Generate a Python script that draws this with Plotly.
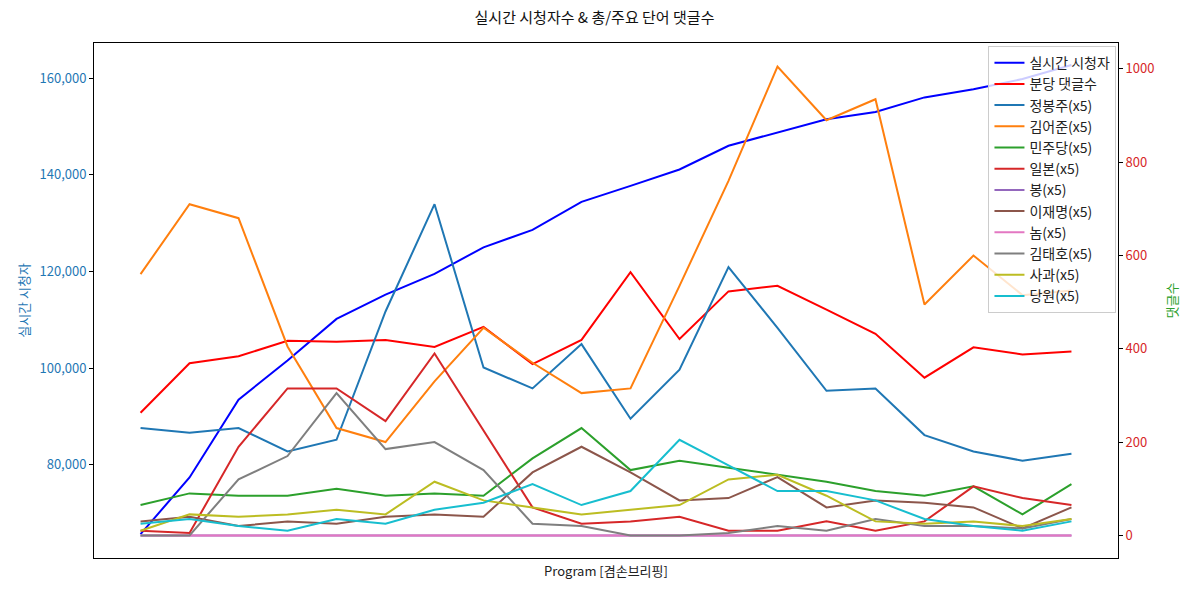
import plotly.graph_objects as go

FONT = "Noto Sans CJK KR"
x = list(range(20))

viewers = [65700, 77400, 93500, 101600, 110200, 115200, 119500, 125000, 128600, 134400,
           137700, 141100, 146000, 148700, 151500, 153000, 156000, 157700, 159800, 162700]
comments_per_min = [263, 369, 384, 417, 415, 419, 404, 447, 367, 419,
                    564, 421, 523, 535, 484, 432, 338, 403, 388, 394]

kw_names = ["정봉주(x5)", "김어준(x5)", "민주당(x5)", "일본(x5)", "봉(x5)", "이재명(x5)",
            "놈(x5)", "김태호(x5)", "사과(x5)", "당원(x5)"]
kw_jbj = [230, 220, 230, 180, 205, 480, 710, 360, 315, 410, 250, 355, 575, 445, 310, 315, 215, 180, 160, 175]
kw_kej = [560, 710, 680, 405, 230, 200, 330, 445, 370, 305, 315, 535, 760, 1005, 890, 935, 495, 600, 515, 525]
kw_mjd = [65, 90, 85, 85, 100, 85, 90, 85, 165, 230, 140, 160, 145, 130, 115, 95, 85, 105, 45, 110]
kw_jp = [10, 5, 190, 315, 315, 245, 390, 225, 60, 25, 30, 40, 10, 10, 30, 10, 30, 105, 80, 65]
kw_bong = [0] * 20
kw_ljm = [30, 40, 20, 30, 25, 40, 45, 40, 135, 190, 135, 75, 80, 125, 60, 75, 70, 60, 15, 60]
kw_nom = [0] * 20
kw_kth = [0, 0, 120, 170, 305, 185, 200, 140, 25, 20, 0, 0, 5, 20, 10, 35, 20, 20, 15, 35]
kw_apple = [10, 45, 40, 45, 55, 45, 115, 75, 60, 45, 55, 65, 120, 130, 85, 30, 25, 30, 20, 35]
kw_member = [25, 35, 20, 10, 35, 25, 55, 70, 110, 65, 95, 205, 150, 95, 95, 75, 35, 20, 10, 30]
kw_values = [kw_jbj, kw_kej, kw_mjd, kw_jp, kw_bong, kw_ljm, kw_nom, kw_kth, kw_apple, kw_member]
kw_colors = ["#1f77b4", "#ff7f0e", "#2ca02c", "#d62728", "#9467bd", "#8c564b",
             "#e377c2", "#7f7f7f", "#bcbd22", "#17becf"]

fig = go.Figure()
fig.add_trace(go.Scatter(x=x, y=viewers, mode="lines", name="실시간 시청자",
                         line=dict(color="#0000ff", width=2), yaxis="y"))
fig.add_trace(go.Scatter(x=x, y=comments_per_min, mode="lines", name="분당 댓글수",
                         line=dict(color="#ff0000", width=2), yaxis="y2"))
for n, v, c in zip(kw_names, kw_values, kw_colors):
    fig.add_trace(go.Scatter(x=x, y=v, mode="lines", name=n,
                             line=dict(color=c, width=2), yaxis="y2"))

fig.update_layout(
    width=1189, height=592,
    margin=dict(l=94, r=71, t=43, b=34),
    paper_bgcolor="white", plot_bgcolor="white",
    font=dict(family=FONT, size=13, color="#222"),
    title=dict(text="실시간 시청자수 & 총/주요 단어 댓글수", x=0.5, xanchor="center",
               y=0.97, yanchor="middle", font=dict(size=15, color="#111")),
    xaxis=dict(range=[-0.95, 19.95], showticklabels=False, ticks="", showgrid=False,
               zeroline=False, showline=True, mirror=True, linecolor="black", linewidth=1,
               title=dict(text="Program [겸손브리핑]", standoff=8, font=dict(size=13, color="#222"))),
    yaxis=dict(range=[60750, 167250], tickvals=[80000, 100000, 120000, 140000, 160000],
               tickformat=",d", ticks="outside", ticklen=4, tickcolor="black",
               tickfont=dict(color="#1f77b4", size=13), showgrid=False, zeroline=False,
               showline=True, mirror=True, linecolor="black", linewidth=1,
               title=dict(text="실시간 시청자", font=dict(color="#1f77b4", size=13), standoff=6)),
    yaxis2=dict(range=[-48.5, 1055.5], overlaying="y", side="right",
                tickvals=[0, 200, 400, 600, 800, 1000], ticks="outside", ticklen=4,
                tickcolor="black", tickfont=dict(color="#d62728", size=13), showgrid=False,
                zeroline=False, showline=False,
                title=dict(text="댓글수", font=dict(color="#2ca02c", size=13), standoff=14)),
    legend=dict(x=0.9985, y=0.994, xanchor="right", yanchor="top",
                bgcolor="rgba(255,255,255,0.8)", bordercolor="#cccccc", borderwidth=1,
                font=dict(size=14, color="#222"), tracegroupgap=0, itemwidth=30),
    showlegend=True,
)

fig.write_html("out.html")
